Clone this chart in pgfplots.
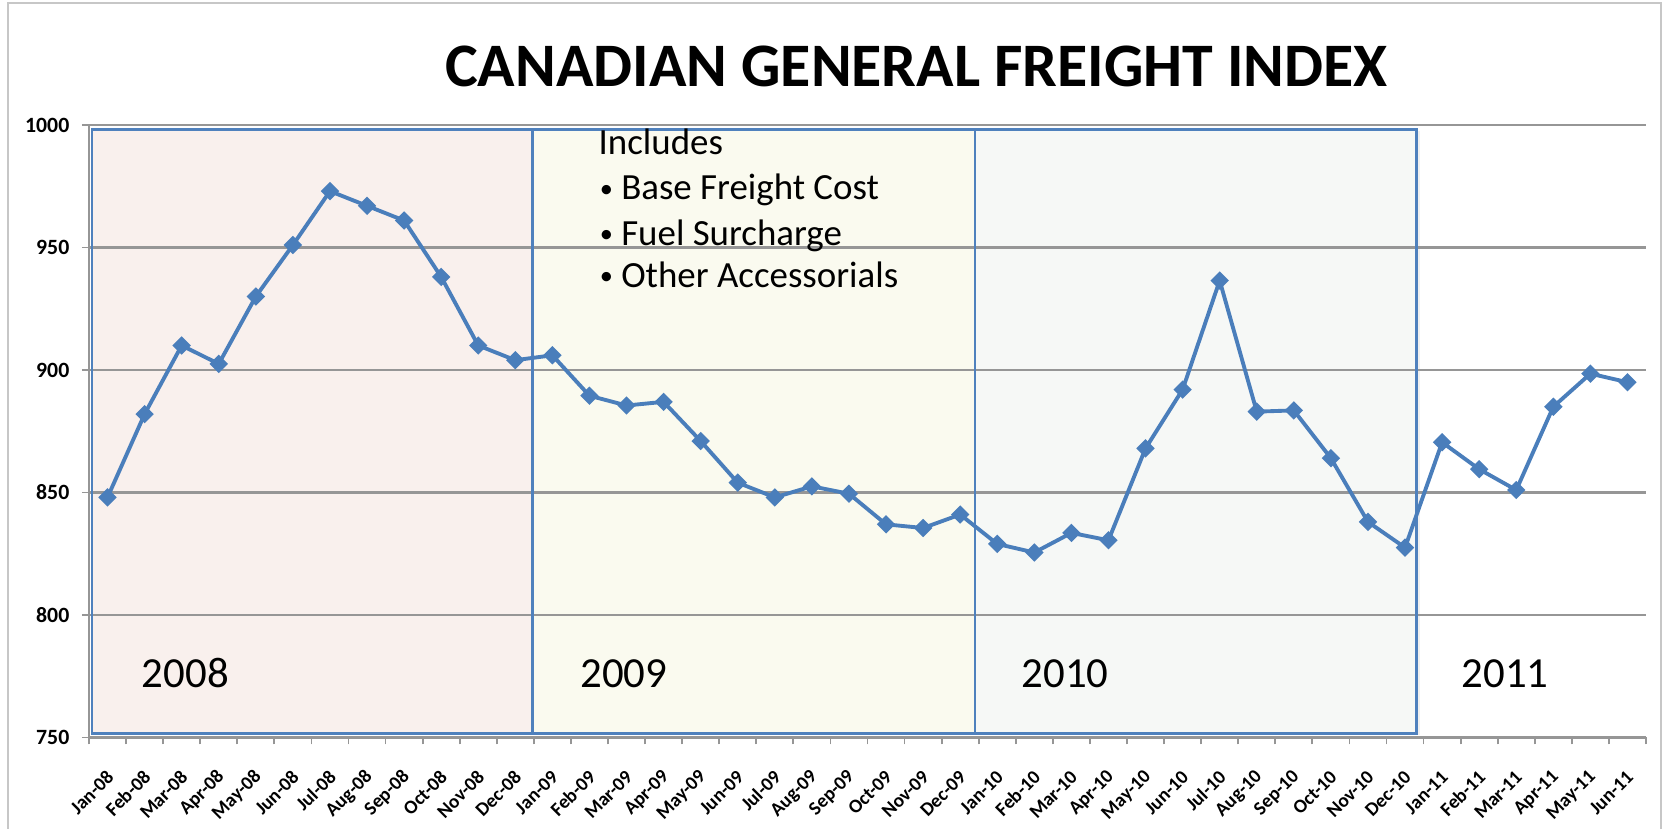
\documentclass[border=0pt]{standalone}
\usepackage{fontspec}
\setmainfont{Carlito}
\usepackage{pgfplots}
\pgfplotsset{compat=1.18}
\definecolor{serie}{RGB}{74,126,187}
\definecolor{boxblue}{RGB}{79,129,189}
\definecolor{fa}{RGB}{249,240,237}
\definecolor{fb}{RGB}{250,250,239}
\definecolor{fc}{RGB}{246,248,246}
\definecolor{gridc}{RGB}{150,150,150}
\begin{document}
\begin{tikzpicture}
\begin{axis}[
  set layers,
  at={(8.9mm,9.15mm)}, anchor=south west,
  scale only axis, width=155.7mm, height=61.25mm,
  xmin=-0.5, xmax=41.5, ymin=750, ymax=1000,
  axis x line*=bottom, axis y line*=left,
  axis line style={gridc, line width=0.6pt},
  ytick={750,800,...,1000},
  ymajorgrids, major grid style={gridc, line width=0.6pt},
  xtick={-0.5,0.5,...,41.5},
  x tick label as interval,
  xticklabels={Jan-08,Feb-08,Mar-08,Apr-08,May-08,Jun-08,Jul-08,Aug-08,Sep-08,Oct-08,Nov-08,Dec-08,
    Jan-09,Feb-09,Mar-09,Apr-09,May-09,Jun-09,Jul-09,Aug-09,Sep-09,Oct-09,Nov-09,Dec-09,
    Jan-10,Feb-10,Mar-10,Apr-10,May-10,Jun-10,Jul-10,Aug-10,Sep-10,Oct-10,Nov-10,Dec-10,
    Jan-11,Feb-11,Mar-11,Apr-11,May-11,Jun-11},
  tick align=outside,
  major tick length=0.7mm,
  tick style={gridc, line width=0.5pt},
  /pgf/number format/assume math mode=true,
  /pgf/number format/1000 sep={},
  yticklabel style={font=\fontsize{6.2}{7}\selectfont\bfseries, anchor=east, inner sep=0pt, xshift=-1.2mm},
  xticklabel style={font=\fontsize{5.5}{6}\selectfont\bfseries, inner sep=0pt, xshift=0.3mm, yshift=-2.9mm, rotate=45, anchor=east},
  clip=false,
]
\begin{pgfonlayer}{axis background}
  \fill[black!6] (-0.34,750.9) rectangle (35.40,997.4);
  \fill[fa] (-0.42,751.6) rectangle (11.47,998.2);
  \fill[fb] (11.47,751.6) rectangle (23.4,998.2);
  \fill[fc] (23.4,751.6) rectangle (35.32,998.2);
\end{pgfonlayer}
\draw[boxblue, line width=0.8pt] (-0.42,751.6) rectangle (11.47,998.2);
\draw[boxblue, line width=0.8pt] (11.47,751.6) rectangle (23.4,998.2);
\draw[boxblue, line width=0.8pt] (23.4,751.6) rectangle (35.32,998.2);
\node[anchor=base, inner sep=0pt, font=\fontsize{12.2}{14}\selectfont] at (axis cs:2.1,770.2) {2008};
\node[anchor=base, inner sep=0pt, font=\fontsize{12.2}{14}\selectfont] at (axis cs:13.93,770.2) {2009};
\node[anchor=base, inner sep=0pt, font=\fontsize{12.2}{14}\selectfont] at (axis cs:25.83,770.2) {2010};
\node[anchor=base, inner sep=0pt, font=\fontsize{12.2}{14}\selectfont] at (axis cs:37.7,770.2) {2011};
\node[anchor=base west, inner sep=0pt, font=\fontsize{10.5}{12.6}\selectfont] at (axis cs:13.23,987.8) {Includes};
\node[anchor=base west, inner sep=0pt, font=\fontsize{7.5}{9}\selectfont] at (axis cs:13.26,970.6) {•};
\node[anchor=base west, inner sep=0pt, font=\fontsize{10.5}{12.6}\selectfont] at (axis cs:13.84,969.4) {Base Freight Cost};
\node[anchor=base west, inner sep=0pt, font=\fontsize{7.5}{9}\selectfont] at (axis cs:13.26,952.2) {•};
\node[anchor=base west, inner sep=0pt, font=\fontsize{10.5}{12.6}\selectfont] at (axis cs:13.84,951.0) {Fuel Surcharge};
\node[anchor=base west, inner sep=0pt, font=\fontsize{7.5}{9}\selectfont] at (axis cs:13.26,934.7) {•};
\node[anchor=base west, inner sep=0pt, font=\fontsize{10.5}{12.6}\selectfont] at (axis cs:13.84,933.5) {Other Accessorials};
\addplot[serie, line width=1.1pt, mark=square*, mark size=1.3pt, mark options={rotate=45, solid}] table {
x y
0 848
1 882
2 910
3 902.5
4 930
5 951
6 973
7 967
8 961
9 938
10 910
11 904
12 906
13 889.5
14 885.5
15 887
16 871
17 854
18 848
19 852.5
20 849.5
21 837
22 835.5
23 841
24 829
25 825.5
26 833.5
27 830.5
28 868
29 892
30 936.5
31 883
32 883.5
33 864
34 838
35 827.5
36 870.5
37 859.5
38 851
39 885
40 898.5
41 895
};
\end{axis}
\draw[black!22, line width=0.25mm] (0.8mm,-1mm) -- (0.8mm,82.6mm) -- (166.1mm,82.6mm) -- (166.1mm,-1mm);
\node[anchor=base, inner sep=0pt, font=\fontsize{17.6}{20}\selectfont\bfseries] at (91.65mm,74.2mm) {CANADIAN GENERAL FREIGHT INDEX};
\pgfresetboundingbox
\path[use as bounding box] (0,0) rectangle (166.5mm,82.9mm);
\end{tikzpicture}
\end{document}
